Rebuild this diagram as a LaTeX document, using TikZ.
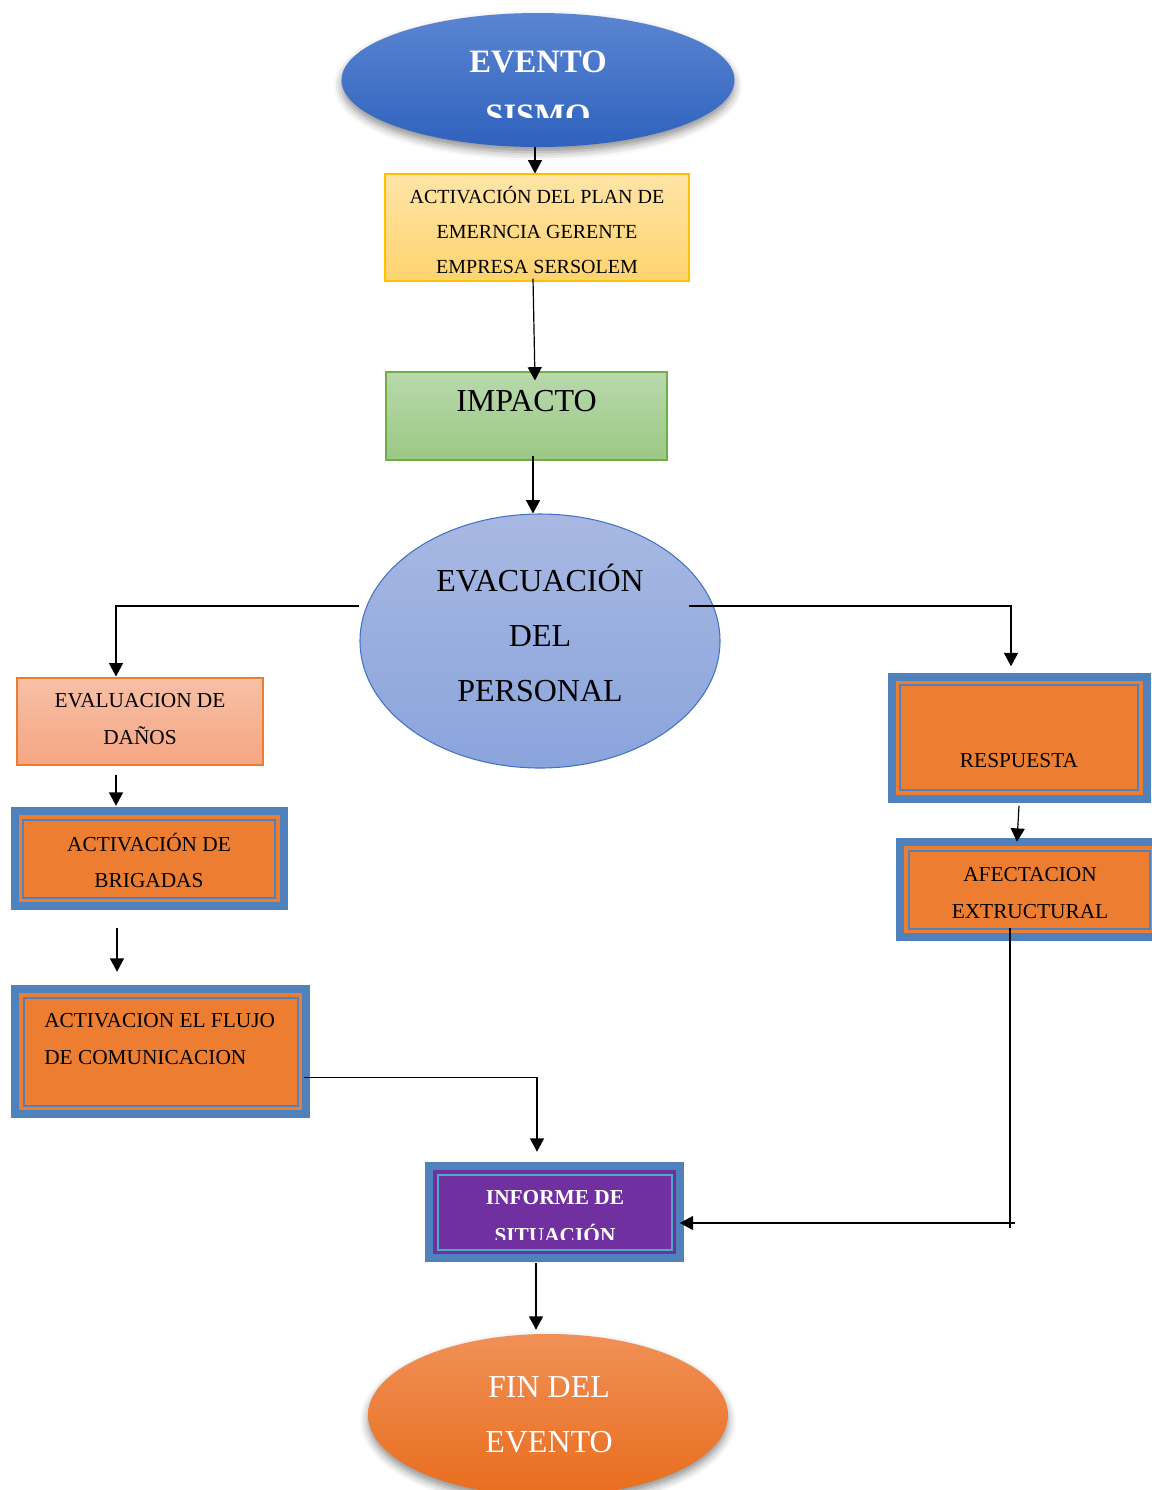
\documentclass[tikz,border=0pt]{standalone}
\usepackage{fontspec}
\setmainfont{Liberation Serif}
\usetikzlibrary{arrows.meta,shadows.blur,shapes.geometric}

\definecolor{evtop}{HTML}{5B85D2}
\definecolor{evbot}{HTML}{2F62BE}
\definecolor{yeltop}{HTML}{FFE4A6}
\definecolor{yelbot}{HTML}{FFD46F}
\definecolor{yeldraw}{HTML}{FFC000}
\definecolor{grntop}{HTML}{B9D9AD}
\definecolor{grnbot}{HTML}{9BC883}
\definecolor{grndraw}{HTML}{70AD47}
\definecolor{evactop}{HTML}{A8B8E2}
\definecolor{evacbot}{HTML}{8AA4DC}
\definecolor{evacdraw}{HTML}{4472C4}
\definecolor{evaltop}{HTML}{F8C0A6}
\definecolor{evalbot}{HTML}{F4A683}
\definecolor{evaldraw}{HTML}{ED7D31}
\definecolor{org}{HTML}{ED7D31}
\definecolor{bordblue}{HTML}{4F81BD}
\definecolor{purp}{HTML}{7030A0}
\definecolor{thinblue}{HTML}{4BACC6}
\definecolor{fintop}{HTML}{F09057}
\definecolor{finbot}{HTML}{E96D1D}

\begin{document}
\begin{tikzpicture}[x=0.75pt,y=-0.75pt,
  arr/.style={line width=0.9pt,-{Triangle[width=10.5pt,length=10pt]}},
  conn/.style={line width=0.9pt},
  ell/.style={shape=ellipse,inner sep=0pt},
  box/.style={shape=rectangle,inner sep=0pt},
  softshadow/.style={blur shadow={shadow xshift=0pt,shadow yshift=-4pt,
      shadow blur radius=6pt,shadow opacity=45}},
  % framed box: outer colour #1, band colour #2, thin line colour #3
  tribox/.style n args={3}{box,fill=#1,
    path picture={
      \fill[#2] ([shift={(8,8)}]path picture bounding box.north west)
        rectangle ([shift={(-8,-8)}]path picture bounding box.south east);
      \draw[#3,line width=1.5pt] ([shift={(12.5,12.5)}]path picture bounding box.north west)
        rectangle ([shift={(-12.5,-12.5)}]path picture bounding box.south east);
    }},
  txt/.style={inner sep=0pt,align=center},
  small/.style={font=\fontsize{16}{27.5}\selectfont},
  big/.style={font=\fontsize{24}{41}\selectfont},
]
\useasboundingbox (0,0) rectangle (1152,1490);
\clip (0,0) rectangle (1152,1490);

% ---- shapes ----
\node[ell,softshadow,top color=evtop,bottom color=evbot,
  minimum width=294.75pt,minimum height=100.5pt] (ev) at (538,80) {};
\node[box,draw=yeldraw,line width=0.8pt,top color=yeltop,bottom color=yelbot,
  minimum width=228pt,minimum height=80.25pt] (yel) at (537,227.5) {};
\node[box,draw=grndraw,line width=0.8pt,top color=grntop,bottom color=grnbot,
  minimum width=210.75pt,minimum height=66pt] (imp) at (526.5,416) {};
\node[ell,draw=evacdraw,line width=0.8pt,top color=evactop,bottom color=evacbot,
  minimum width=270pt,minimum height=190.5pt] (evac) at (540,641) {};
\node[box,draw=evaldraw,line width=0.8pt,top color=evaltop,bottom color=evalbot,
  minimum width=184.5pt,minimum height=65.25pt] (eval) at (140,721.5) {};
\node[tribox={bordblue}{org}{bordblue},
  minimum width=207.75pt,minimum height=77.25pt] (brig) at (149,858.5) {};
\node[tribox={bordblue}{org}{bordblue},
  minimum width=224.25pt,minimum height=99.75pt] (flujo) at (160.5,1051.5) {};
\node[tribox={bordblue}{purp}{thinblue},
  minimum width=194.25pt,minimum height=75pt] (inf) at (554.5,1212) {};
\node[tribox={bordblue}{org}{bordblue},
  minimum width=197.25pt,minimum height=97.5pt] (resp) at (1019,737.5) {};
\node[tribox={bordblue}{org}{bordblue},
  minimum width=199.5pt,minimum height=77.25pt] (afe) at (1029,889.5) {};
\node[ell,softshadow,top color=fintop,bottom color=finbot,
  minimum width=270pt,minimum height=121.5pt] (fin) at (548,1415) {};

% ---- texts ----
\begin{scope}
  \clip (300,0) rectangle (780,117);
  \node[txt,text=white,font=\fontsize{24.5}{41}\selectfont\bfseries] (tev) at (538,89) {EVENTO\\SISMO};
\end{scope}
\node[txt,font=\fontsize{15}{26}\selectfont] (tyel) at (537,230)
  {ACTIVACIÓN DEL PLAN DE\\EMERNCIA GERENTE\\EMPRESA SERSOLEM};
\node[txt,big] (timp) at (526.5,401) {IMPACTO};
\node[txt,big] (tevac) at (540,633) {EVACUACIÓN\\DEL\\PERSONAL};
\node[txt,small] (teval) at (140,719) {EVALUACION DE\\DAÑOS};
\node[txt,small] (tbrig) at (149,860.5) {ACTIVACIÓN DE\\BRIGADAS};
\node[txt,small,anchor=west,align=left] (tflujo) at (44,1039)
  {ACTIVACION EL FLUJO\\DE COMUNICACION};
\begin{scope}
  \clip (430,1170) rectangle (680,1239);
  \node[txt,text=white,font=\fontsize{16}{28.5}\selectfont\bfseries] (tinf) at (555,1216.5)
    {INFORME DE\\SITUACIÓN};
\end{scope}
\node[txt,small] (tresp) at (1019,761) {RESPUESTA};
\node[txt,small] (tafe) at (1030,893) {AFECTACION\\EXTRUCTURAL};
\node[txt,text=white,font=\fontsize{24}{41}\selectfont] (tfin) at (549,1414.5) {FIN DEL\\EVENTO};

% ---- connectors ----
\draw[arr] ([shift={(-3,0)}]ev.south) -- ([shift={(-2,0)}]yel.north);
\draw[arr] ([shift={(-4,-3)}]yel.south) -- ([shift={(8.5,9)}]imp.north);
\draw[arr] ([shift={(6.5,-5)}]imp.south) -- ([shift={(-7,0)}]evac.north);

\coordinate (lstart) at ([shift={(0,-35)}]evac.west);
\draw[arr] (lstart) -| ([shift={(-24,-1)}]eval.north);
\coordinate (rstart) at ([shift={(149,-35)}]evac.center);
\draw[arr] (rstart) -| ([shift={(-8,-6)}]resp.north);

\draw[arr] ([shift={(-24,9)}]eval.south) -- ([shift={(-33,-1)}]brig.north);
\draw[arr] ([shift={(-32,18)}]brig.south) -- ([shift={(-43.5,-13)}]flujo.north);
\draw[arr] ([shift={(-6,26)}]flujo.east) -| ([shift={(-17.5,-10)}]inf.north);
\draw[arr] ([shift={(-18.5,1)}]inf.south) -- ([shift={(-12,-4)}]fin.north);

\draw[arr] ([shift={(0,3)}]resp.south) -- ([shift={(-12,4)}]afe.north);
\coordinate (vend) at (1010,1228);
\draw[conn] ([shift={(-19,-13)}]afe.south) -- (vend);
\coordinate (hstart) at (1015,1223);
\draw[arr] (hstart) -- ([shift={(-4.5,11)}]inf.east);
\end{tikzpicture}
\end{document}
